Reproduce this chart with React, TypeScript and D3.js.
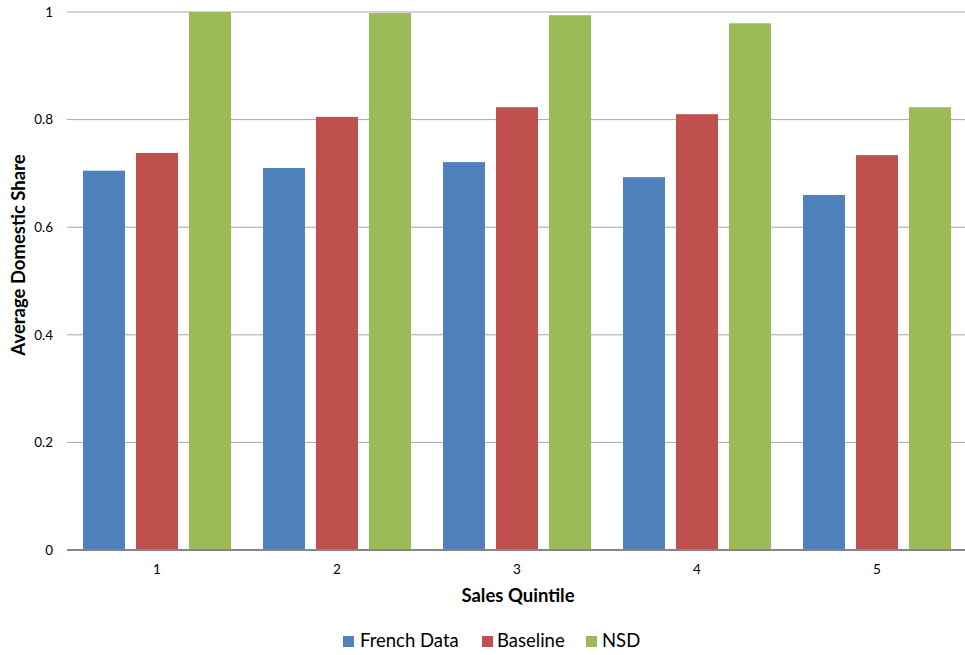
import React from "react";
import * as d3 from "d3";

const quintiles = ["1", "2", "3", "4", "5"];
const seriesNames = ["French Data", "Baseline", "NSD"];
const frenchData = [0.705, 0.71, 0.721, 0.693, 0.66];
const baseline = [0.738, 0.805, 0.823, 0.81, 0.734];
const nsd = [1.0, 0.998, 0.994, 0.979, 0.823];
const yTicks = [0, 0.2, 0.4, 0.6, 0.8, 1];
const colors = ["#4F81BD", "#C0504D", "#9BBB59"];

const W = 965;
const H = 655;
const plot = { left: 67, right: 967, top: 12, bottom: 550 };
const font = "Lato, 'Open Sans', sans-serif";

export default function App() {
  const values = [frenchData, baseline, nsd];
  const x0 = d3.scaleBand<string>().domain(quintiles).range([plot.left, plot.right]).paddingInner(0).paddingOuter(0);
  const x1 = d3
    .scaleBand<string>()
    .domain(seriesNames)
    .range([16, x0.bandwidth() - 16])
    .paddingInner(11 / 53)
    .paddingOuter(0);
  const y = d3.scaleLinear().domain([0, 1]).range([plot.bottom, plot.top]);

  return (
    <svg width={W} height={H} style={{ position: "absolute", left: 0, top: 0, background: "#fff" }}>
      {yTicks.map((t) => (
        <g key={t}>
          {t > 0 && (
            <line x1={plot.left} x2={W} y1={y(t)} y2={y(t)} stroke="#A6A6A6" strokeWidth={1} />
          )}
          <text x={53} y={y(t)} dy="0.35em" textAnchor="end" fontFamily={font} fontSize={13.5} fill="#000">
            {t === 0 || t === 1 ? String(t) : t.toFixed(1)}
          </text>
        </g>
      ))}
      {quintiles.map((q, i) => (
        <g key={q} transform={`translate(${x0(q)},0)`}>
          {seriesNames.map((s, j) => (
            <rect
              key={s}
              x={x1(s)}
              y={y(values[j][i])}
              width={x1.bandwidth()}
              height={y(0) - y(values[j][i])}
              fill={colors[j]}
            />
          ))}
          <text
            x={x0.bandwidth() / 2}
            y={574}
            textAnchor="middle"
            fontFamily={font}
            fontSize={13.5}
            fill="#000"
          >
            {q}
          </text>
        </g>
      ))}
      <line x1={plot.left} x2={W} y1={plot.bottom} y2={plot.bottom} stroke="#868686" strokeWidth={2} />
      <text x={518} y={602} textAnchor="middle" fontFamily={font} fontSize={18.5} fontWeight="bold">
        Sales Quintile
      </text>
      <text
        transform={`translate(25,255) rotate(-90)`}
        textAnchor="middle"
        fontFamily={font}
        fontSize={18.5}
        fontWeight="bold"
      >
        Average Domestic Share
      </text>
      {[
        { name: seriesNames[0], sx: 343, tx: 360 },
        { name: seriesNames[1], sx: 482, tx: 497 },
        { name: seriesNames[2], sx: 586, tx: 602 },
      ].map((l, j) => (
        <g key={l.name}>
          <rect x={l.sx} y={636} width={11} height={11} fill={colors[j]} />
          <text x={l.tx} y={647} fontFamily={font} fontSize={18.5} fill="#000">
            {l.name}
          </text>
        </g>
      ))}
    </svg>
  );
}
